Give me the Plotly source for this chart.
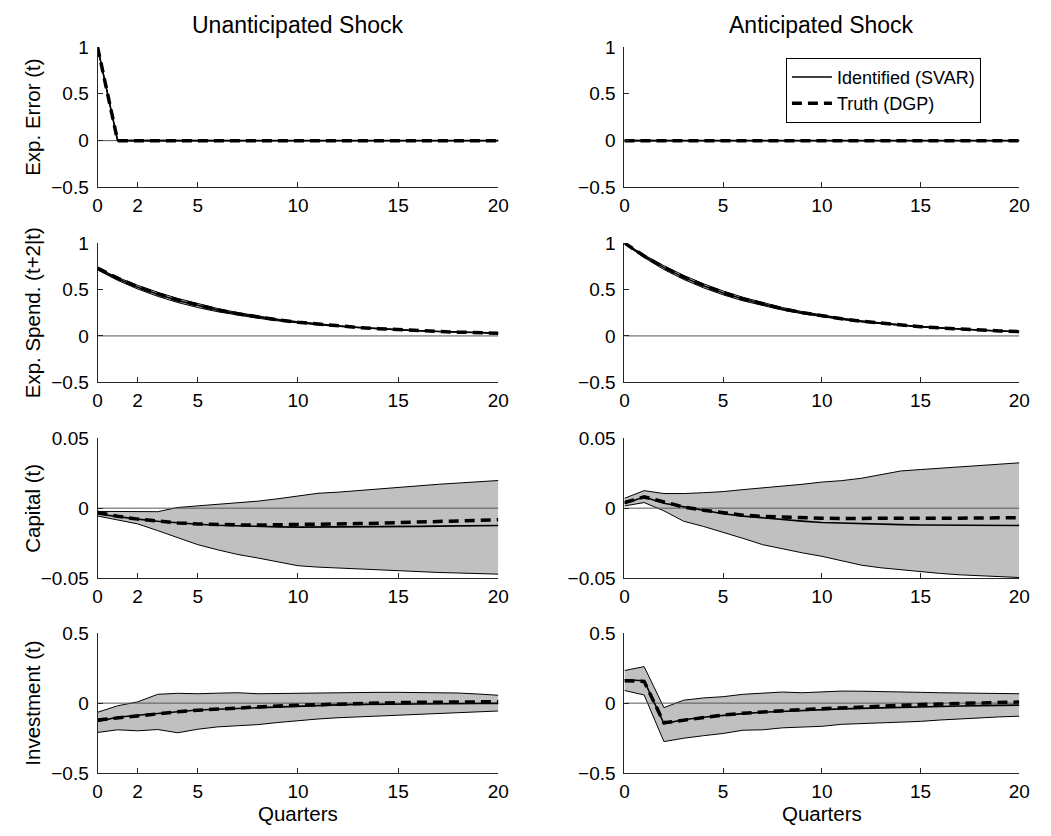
import plotly.graph_objects as go

quarters = list(range(21))

# Row 1: Exp. Error (t)
ee_u_id = [1.0] + [0.0] * 20
ee_u_true = [1.0] + [0.0] * 20
ee_u_hi = [1.0, 0.004, 0.004, 0.003, 0.002, 0.001] + [0.0] * 15
ee_u_lo = [1.0, -0.004, -0.004, -0.003, -0.002, -0.001] + [0.0] * 15
ee_a_id = [0.0] * 21
ee_a_true = [0.0] * 21
ee_a_hi = [0.004, 0.005, 0.004, 0.003, 0.001] + [0.0] * 16
ee_a_lo = [-0.004, -0.005, -0.004, -0.003, -0.001] + [0.0] * 16

# Row 2: Exp. Spend. (t+2|t)
es_u_id = [0.72, 0.615, 0.525, 0.448, 0.382, 0.326, 0.278, 0.237, 0.202, 0.172, 0.147,
           0.125, 0.107, 0.091, 0.078, 0.066, 0.056, 0.048, 0.041, 0.035, 0.030]
es_u_true = [0.73, 0.622, 0.530, 0.452, 0.385, 0.328, 0.280, 0.238, 0.203, 0.173, 0.147,
             0.126, 0.107, 0.091, 0.078, 0.066, 0.056, 0.048, 0.041, 0.035, 0.030]
es_u_hi = [0.73, 0.630, 0.545, 0.470, 0.404, 0.346, 0.295, 0.251, 0.213, 0.181, 0.154,
           0.131, 0.111, 0.094, 0.080, 0.068, 0.058, 0.049, 0.042, 0.036, 0.031]
es_u_lo = [0.71, 0.598, 0.505, 0.426, 0.360, 0.305, 0.260, 0.222, 0.190, 0.162, 0.139,
           0.119, 0.102, 0.087, 0.074, 0.063, 0.054, 0.046, 0.039, 0.033, 0.028]
es_a_id = [1.0, 0.857, 0.735, 0.630, 0.540, 0.463, 0.397, 0.340, 0.291, 0.250, 0.214,
           0.184, 0.157, 0.135, 0.116, 0.099, 0.085, 0.073, 0.062, 0.053, 0.046]
es_a_true = [1.0, 0.860, 0.738, 0.633, 0.543, 0.466, 0.399, 0.342, 0.293, 0.251, 0.215,
             0.185, 0.158, 0.136, 0.116, 0.100, 0.086, 0.073, 0.063, 0.054, 0.046]
es_a_hi = [1.0, 0.872, 0.756, 0.652, 0.562, 0.484, 0.416, 0.357, 0.306, 0.262, 0.224,
           0.192, 0.164, 0.140, 0.120, 0.103, 0.088, 0.075, 0.064, 0.055, 0.047]
es_a_lo = [0.99, 0.843, 0.714, 0.608, 0.518, 0.442, 0.378, 0.324, 0.278, 0.239, 0.205,
           0.176, 0.151, 0.130, 0.112, 0.096, 0.082, 0.070, 0.060, 0.051, 0.044]

# Row 3: Capital (t)
k_u_id = [-0.0042, -0.0062, -0.0078, -0.0093, -0.0105, -0.0115, -0.0122, -0.0127, -0.0131, -0.0133,
          -0.0135, -0.0135, -0.0135, -0.0134, -0.0133, -0.0132, -0.0130, -0.0128, -0.0127, -0.0125, -0.0123]
k_u_true = [-0.0030, -0.0058, -0.0078, -0.0094, -0.0105, -0.0112, -0.0117, -0.0119, -0.0120, -0.0119,
            -0.0118, -0.0116, -0.0113, -0.0110, -0.0107, -0.0104, -0.0100, -0.0096, -0.0092, -0.0088, -0.0083]
k_u_hi = [-0.0023, -0.0025, -0.0025, -0.0025, 0.0005, 0.0016, 0.0023, 0.0036, 0.0050, 0.0067,
          0.0085, 0.0106, 0.0114, 0.0126, 0.0138, 0.0150, 0.0162, 0.0170, 0.0179, 0.0188, 0.0197]
k_u_lo = [-0.0056, -0.0085, -0.0112, -0.0160, -0.0210, -0.0260, -0.0297, -0.0330, -0.0355, -0.0380,
          -0.0410, -0.0420, -0.0427, -0.0435, -0.0441, -0.0445, -0.0452, -0.0458, -0.0462, -0.0466, -0.0470]
k_a_id = [0.0033, 0.0079, 0.0035, 0.0009, -0.0019, -0.0040, -0.0057, -0.0070, -0.0082, -0.0092,
          -0.0102, -0.0107, -0.0110, -0.0114, -0.0117, -0.0120, -0.0121, -0.0122, -0.0122, -0.0123, -0.0123]
k_a_true = [0.0040, 0.0080, 0.0045, 0.0008, -0.0015, -0.0035, -0.0050, -0.0058, -0.0064, -0.0068,
            -0.0071, -0.0073, -0.0074, -0.0074, -0.0074, -0.0073, -0.0072, -0.0071, -0.0070, -0.0069, -0.0068]
k_a_hi = [0.0070, 0.0125, 0.0104, 0.0104, 0.0110, 0.0118, 0.0132, 0.0143, 0.0155, 0.0170,
          0.0186, 0.0196, 0.0213, 0.0240, 0.0265, 0.0275, 0.0285, 0.0295, 0.0305, 0.0315, 0.0323]
k_a_lo = [0.0016, 0.0040, -0.0019, -0.0093, -0.0130, -0.0170, -0.0215, -0.0260, -0.0290, -0.0318,
          -0.0343, -0.0375, -0.0406, -0.0425, -0.0440, -0.0452, -0.0465, -0.0475, -0.0483, -0.0489, -0.0494]

# Row 4: Investment (t)
i_u_id = [-0.130, -0.100, -0.086, -0.072, -0.060, -0.049, -0.043, -0.037, -0.031, -0.025, -0.019,
          -0.015, -0.012, -0.010, -0.008, -0.007, -0.006, -0.005, -0.004, -0.003, -0.002]
i_u_true = [-0.120, -0.105, -0.088, -0.075, -0.062, -0.050, -0.041, -0.033, -0.026, -0.020, -0.015,
            -0.010, -0.006, -0.002, 0.001, 0.004, 0.006, 0.007, 0.008, 0.009, 0.010]
i_u_hi = [-0.065, -0.019, 0.009, 0.063, 0.070, 0.067, 0.071, 0.074, 0.067, 0.069, 0.072,
          0.075, 0.077, 0.077, 0.077, 0.077, 0.076, 0.075, 0.072, 0.065, 0.056]
i_u_lo = [-0.209, -0.190, -0.197, -0.188, -0.211, -0.186, -0.169, -0.161, -0.153, -0.138, -0.123,
          -0.113, -0.104, -0.098, -0.094, -0.088, -0.082, -0.075, -0.065, -0.060, -0.056]
i_a_id = [0.167, 0.160, -0.146, -0.118, -0.100, -0.086, -0.075, -0.065, -0.058, -0.052, -0.046,
          -0.041, -0.037, -0.033, -0.029, -0.026, -0.023, -0.020, -0.018, -0.016, -0.014]
i_a_true = [0.160, 0.155, -0.140, -0.120, -0.100, -0.085, -0.072, -0.062, -0.054, -0.046, -0.040,
            -0.033, -0.027, -0.021, -0.015, -0.010, -0.006, -0.002, 0.003, 0.006, 0.008]
i_a_hi = [0.232, 0.260, -0.032, 0.021, 0.037, 0.046, 0.063, 0.071, 0.079, 0.074, 0.080,
          0.086, 0.085, 0.084, 0.081, 0.077, 0.074, 0.071, 0.069, 0.068, 0.067]
i_a_lo = [0.090, 0.058, -0.274, -0.250, -0.232, -0.216, -0.193, -0.190, -0.176, -0.170, -0.165,
          -0.151, -0.147, -0.143, -0.138, -0.130, -0.120, -0.111, -0.103, -0.098, -0.093]

col_titles = ["Unanticipated Shock", "Anticipated Shock"]
row_labels = ["Exp. Error (t)", "Exp. Spend. (t+2|t)", "Capital (t)", "Investment (t)"]
x_label = "Quarters"
x_ticks_left = [0, 2, 5, 10, 15, 20]
x_ticks_right = [0, 5, 10, 15, 20]
y_ticks_big = [-0.5, 0, 0.5, 1]
y_ticktext_big = ["\u22120.5", "0", "0.5", "1"]
y_ticks_cap = [-0.05, 0, 0.05]
y_ticktext_cap = ["\u22120.05", "0", "0.05"]
y_ticks_inv = [-0.5, 0, 0.5]
y_ticktext_inv = ["\u22120.5", "0", "0.5"]

panels = [
    (0, 0, ee_u_lo, ee_u_hi, ee_u_id, ee_u_true, [-0.5, 1], y_ticks_big, y_ticktext_big),
    (0, 1, ee_a_lo, ee_a_hi, ee_a_id, ee_a_true, [-0.5, 1], y_ticks_big, y_ticktext_big),
    (1, 0, es_u_lo, es_u_hi, es_u_id, es_u_true, [-0.5, 1], y_ticks_big, y_ticktext_big),
    (1, 1, es_a_lo, es_a_hi, es_a_id, es_a_true, [-0.5, 1], y_ticks_big, y_ticktext_big),
    (2, 0, k_u_lo, k_u_hi, k_u_id, k_u_true, [-0.05, 0.05], y_ticks_cap, y_ticktext_cap),
    (2, 1, k_a_lo, k_a_hi, k_a_id, k_a_true, [-0.05, 0.05], y_ticks_cap, y_ticktext_cap),
    (3, 0, i_u_lo, i_u_hi, i_u_id, i_u_true, [-0.5, 0.5], y_ticks_inv, y_ticktext_inv),
    (3, 1, i_a_lo, i_a_hi, i_a_id, i_a_true, [-0.5, 0.5], y_ticks_inv, y_ticktext_inv),
]

W, H = 1051, 836
col_px = [(94, 501), (629, 1030)]
row_px = [(38, 182), (239, 382), (439, 583), (639, 783)]

FONT = "Liberation Sans, Arial, sans-serif"
AX = "#262626"
TICK_SIZE = 19

fig = go.Figure()
layout = dict(
    width=W, height=H,
    margin=dict(l=0, r=0, t=0, b=0),
    paper_bgcolor="white", plot_bgcolor="white",
    font=dict(family=FONT, size=TICK_SIZE, color="black"),
    showlegend=True,
    legend=dict(x=793 / W, y=1 - 49 / H, xanchor="left", yanchor="top",
                bgcolor="white", bordercolor="black", borderwidth=1,
                font=dict(size=18, family=FONT), tracegroupgap=0,
                traceorder="normal", itemwidth=40),
    annotations=[],
)

for k, (r, c, lo, hi, ident, truth, yr, yt, ytt) in enumerate(panels):
    n = k + 1
    xa = "x" if n == 1 else f"x{n}"
    ya = "y" if n == 1 else f"y{n}"
    x0, x1 = col_px[c]
    y0, y1 = row_px[r]
    layout[f"xaxis{n}" if n > 1 else "xaxis"] = dict(
        domain=[x0 / W, x1 / W], anchor=ya, range=[quarters[0], quarters[-1]],
        tickmode="array", tickvals=x_ticks_left if c == 0 else x_ticks_right,
        ticks="inside", ticklen=5, tickcolor=AX, showline=True, linecolor=AX, linewidth=1,
        showgrid=False, zeroline=False, tickfont=dict(size=TICK_SIZE), ticklabelstandoff=1,
    )
    layout[f"yaxis{n}" if n > 1 else "yaxis"] = dict(
        domain=[1 - y1 / H, 1 - y0 / H], anchor=xa, range=yr,
        tickmode="array", tickvals=yt, ticktext=ytt,
        ticks="inside", ticklen=5, tickcolor=AX, showline=True, linecolor=AX, linewidth=1,
        showgrid=False, zeroline=False, tickfont=dict(size=TICK_SIZE), ticklabelstandoff=4,
    )
    fig.add_trace(go.Scatter(x=quarters, y=lo, mode="lines", line=dict(color="black", width=1),
                             xaxis=xa, yaxis=ya, showlegend=False, hoverinfo="skip"))
    fig.add_trace(go.Scatter(x=quarters, y=hi, mode="lines", line=dict(color="black", width=1),
                             fill="tonexty", fillcolor="#c0c0c0",
                             xaxis=xa, yaxis=ya, showlegend=False, hoverinfo="skip"))
    fig.add_trace(go.Scatter(x=[quarters[0], quarters[-1]], y=[0, 0], mode="lines",
                             line=dict(color="#555555", width=1),
                             xaxis=xa, yaxis=ya, showlegend=False, hoverinfo="skip"))
    fig.add_trace(go.Scatter(x=quarters, y=ident, mode="lines", line=dict(color="black", width=1.6),
                             name="Identified (SVAR)", xaxis=xa, yaxis=ya, showlegend=(n == 2)))
    fig.add_trace(go.Scatter(x=quarters, y=truth, mode="lines",
                             line=dict(color="black", width=3.5, dash="10px,6px"),
                             name="Truth (DGP)", xaxis=xa, yaxis=ya, showlegend=(n == 2)))

# Column titles and x labels
for c, t in enumerate(col_titles):
    x0, x1 = col_px[c]
    layout["annotations"].append(dict(
        text=t, x=(x0 + x1) / 2 / W, y=1 - 15 / H, xref="paper", yref="paper",
        xanchor="center", yanchor="middle", showarrow=False, font=dict(size=23)))
    layout["annotations"].append(dict(
        text=x_label, x=(x0 + x1) / 2 / W, y=1 - 824 / H, xref="paper", yref="paper",
        xanchor="center", yanchor="middle", showarrow=False, font=dict(size=20.5)))

# Row labels
for r, t in enumerate(row_labels):
    y0, y1 = row_px[r]
    layout["annotations"].append(dict(
        text=t, x=28 / W, y=1 - (y0 + y1) / 2 / H, xref="paper", yref="paper",
        xanchor="center", yanchor="middle", textangle=-90, showarrow=False,
        font=dict(size=20.5)))

fig.update_layout(layout)
fig.write_html("out.html")
